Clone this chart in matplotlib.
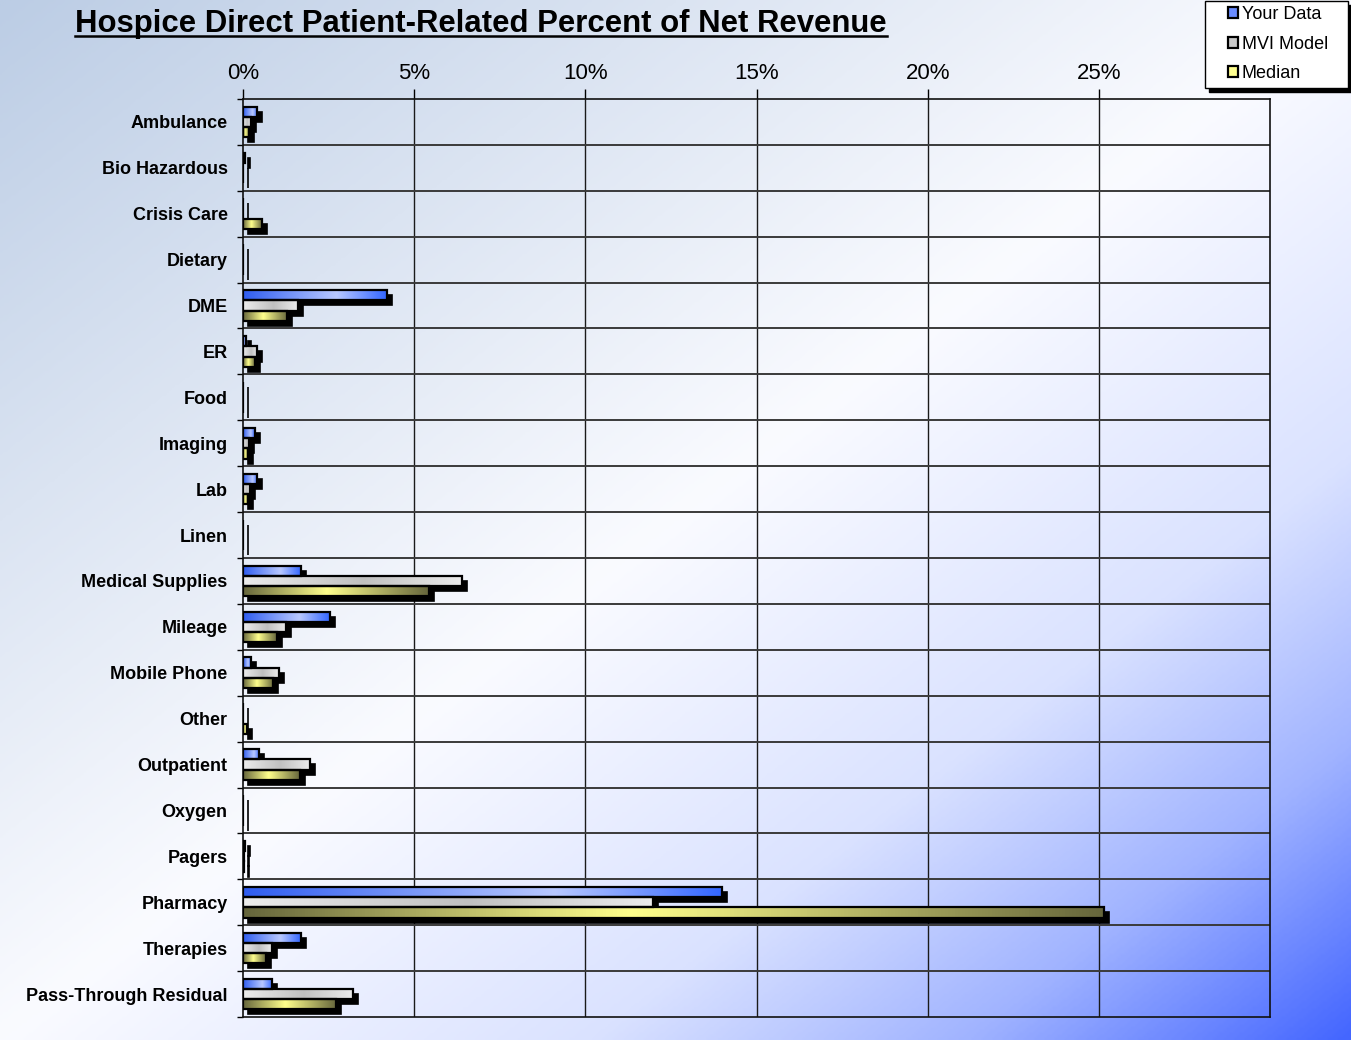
import numpy as np
import matplotlib
matplotlib.use('Agg')
import matplotlib.pyplot as plt
from matplotlib.patches import Rectangle, Patch
from matplotlib.colors import LinearSegmentedColormap
from matplotlib.lines import Line2D
import matplotlib.transforms as mtransforms

plt.rcParams['font.family'] = ['Liberation Sans', 'DejaVu Sans']

categories = ['Ambulance', 'Bio Hazardous', 'Crisis Care', 'Dietary', 'DME', 'ER', 'Food',
              'Imaging', 'Lab', 'Linen', 'Medical Supplies', 'Mileage', 'Mobile Phone', 'Other',
              'Outpatient', 'Oxygen', 'Pagers', 'Pharmacy', 'Therapies', 'Pass-Through Residual']
your_data = [0.42, 0.05, 0, 0, 4.20, 0.08, 0, 0.35, 0.42, 0, 1.69, 2.54, 0.23, 0, 0.48, 0, 0.06, 14.00, 1.68, 0.86]
mvi_model = [0.22, 0, 0, 0, 1.62, 0.42, 0, 0.18, 0.20, 0, 6.40, 1.26, 1.05, 0, 1.97, 0, 0.04, 11.98, 0.84, 3.22]
median = [0.17, 0, 0.55, 0, 1.29, 0.35, 0, 0.14, 0.14, 0, 5.43, 0.99, 0.89, 0.13, 1.66, 0, 0.04, 25.15, 0.66, 2.72]
series_names = ['Your Data', 'MVI Model', 'Median']
xtick_values = [0, 5, 10, 15, 20, 25]
xtick_labels = ['0%', '5%', '10%', '15%', '20%', '25%']
title = 'Hospice Direct Patient-Related Percent of Net Revenue'

W, H = 1351, 1040
fig = plt.figure(figsize=(W / 100, H / 100), dpi=100)

# background gradient
bg = fig.add_axes([0, 0, 1, 1], zorder=-10)
yy, xx = np.mgrid[0:1:400j, 0:1:520j]
t = (xx + yy) / 2
cmap_bg = LinearSegmentedColormap.from_list('bg', [(0, '#bccde5'), (0.5, '#fafbff'), (0.72, '#dae2ff'),
                                                   (0.86, '#a0b3ff'), (1, '#4466ff')])
bg.imshow(t, cmap=cmap_bg, vmin=0, vmax=1, aspect='auto', extent=[0, 1, 0, 1], interpolation='bilinear')
bg.set_xlim(0, 1); bg.set_ylim(0, 1)
bg.axis('off')

ax = fig.add_axes([243 / W, 1 - 1017 / H, (1270 - 243) / W, (1017 - 99) / H])
ax.patch.set_alpha(0)

cmaps = [
    LinearSegmentedColormap.from_list('y', [(0, '#2f5df0'), (0.65, '#b8c8ff'), (1, '#3366ff')]),
    LinearSegmentedColormap.from_list('m', [(0, '#ededed'), (0.55, '#c0c0c0'), (1, '#ececec')]),
    LinearSegmentedColormap.from_list('d', [(0, '#66663c'), (0.45, '#ffff8c'), (1, '#66663c')]),
]
legend_colors = ['#6a8cff', '#c8c8c8', '#ffff90']

n = len(categories)
ypos = np.arange(n)
h = 0.222
offsets = [-h, 0, h]
shadow_tr = ax.transData + mtransforms.ScaledTranslation(5 / 100, -5 / 100, fig.dpi_scale_trans)
grad = np.linspace(0, 1, 256).reshape(1, -1)

for vals, off, cm in zip([your_data, mvi_model, median], offsets, cmaps):
    for i, v in enumerate(vals):
        yc = ypos[i] + off
        ax.add_patch(Rectangle((0, yc - h / 2), v, h, transform=shadow_tr, facecolor='black',
                               edgecolor='black', lw=1.2, zorder=2))
        if v > 0:
            ax.imshow(grad, cmap=cm, vmin=0, vmax=1, extent=[0, v, yc + h / 2, yc - h / 2],
                      aspect='auto', zorder=3, interpolation='bilinear')
        ax.add_patch(Rectangle((0, yc - h / 2), v, h, facecolor='none', edgecolor='black',
                               lw=1.6, zorder=4))

ax.set_xlim(0, 30)
ax.set_ylim(n - 0.5, -0.5)
ax.set_aspect('auto')

ax.vlines(xtick_values[1:], -0.5, n - 0.5, color='#1a1a1a', lw=1.0, zorder=1)
ax.hlines(np.arange(n - 1) + 0.5, 0, 30, color='#3a3a3a', lw=1.4, zorder=1)
for s in ax.spines.values():
    s.set_color('#111111')
    s.set_linewidth(1.2)

ax.xaxis.tick_top()
ax.set_xticks(xtick_values, xtick_labels, fontsize=16)
ax.tick_params(axis='x', length=7, width=1, pad=4, top=True, bottom=False, direction='out')
ax.set_yticks(ypos, categories, fontsize=13, fontweight='bold')
ax.tick_params(axis='y', which='major', length=0, pad=11)
ax.set_yticks(np.arange(n + 1) - 0.5, minor=True)
ax.tick_params(axis='y', which='minor', length=4, width=1, direction='out')

# title with underline
ty = 1 - 32 / H
ttl = fig.text(481 / W, ty, title, fontsize=22.4, fontweight='bold', ha='center', va='baseline')

# legend box (manual frame with black shadow)
fig.add_artist(Rectangle(((1205 + 4) / W, 1 - (88 + 4) / H), 143 / W, 87 / H, transform=fig.transFigure,
                         facecolor='black', edgecolor='black', zorder=8))
fig.add_artist(Rectangle((1205 / W, 1 - 88 / H), 143 / W, 87 / H, transform=fig.transFigure,
                         facecolor='white', edgecolor='black', lw=1.0, zorder=9))
handles = [Patch(facecolor=c, edgecolor='black', lw=1.6) for c in legend_colors]
leg = fig.legend(handles, series_names, loc='upper left', bbox_to_anchor=(1222 / W, 1 - 0 / H),
                 frameon=False, fontsize=13,
                 handlelength=0.55, handleheight=0.55, handletextpad=0.2, borderpad=0.35,
                 labelspacing=0.68, borderaxespad=0)
leg.set_zorder(10)

fig.canvas.draw()
bb = ttl.get_window_extent()
fig.add_artist(Line2D([bb.x0 / W, bb.x1 / W], [ty - 3.5 / H, ty - 3.5 / H], color='black', lw=1.8,
                      transform=fig.transFigure))

fig.savefig('out.png', dpi=100)
